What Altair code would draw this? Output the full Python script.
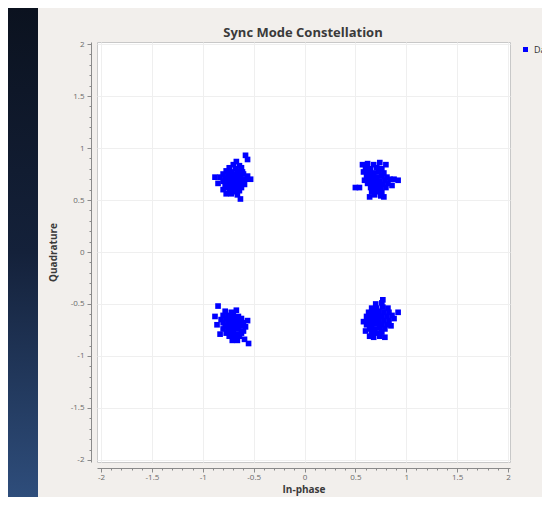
import altair as alt
import pandas as pd

# Constellation samples (I, Q) per cluster
UL = [(-0.70,0.84),(-0.64,0.83),
      (-0.74,0.81),(-0.68,0.80),(-0.62,0.81),
      (-0.77,0.78),(-0.72,0.77),(-0.66,0.78),(-0.61,0.77),
      (-0.80,0.75),(-0.75,0.74),(-0.70,0.75),(-0.65,0.74),(-0.60,0.75),(-0.56,0.73),
      (-0.83,0.72),(-0.78,0.71),(-0.73,0.72),(-0.68,0.71),(-0.63,0.72),(-0.58,0.70),
      (-0.80,0.68),(-0.75,0.68),(-0.70,0.69),(-0.65,0.68),(-0.60,0.67),
      (-0.78,0.65),(-0.73,0.65),(-0.68,0.66),(-0.63,0.64),(-0.59,0.65),
      (-0.76,0.62),(-0.71,0.62),(-0.66,0.61),(-0.62,0.62),
      (-0.74,0.59),(-0.69,0.58),(-0.64,0.59),
      (-0.72,0.56),(-0.66,0.55),
      (-0.58,0.93),(-0.56,0.89),(-0.88,0.72),(-0.63,0.51),(-0.80,0.60),
      (-0.53,0.70),(-0.67,0.87),(-0.85,0.66),(-0.77,0.56)]

UR = [(0.62,0.85),(0.68,0.84),(0.74,0.86),
      (0.60,0.81),(0.65,0.80),(0.71,0.81),(0.76,0.80),
      (0.58,0.77),(0.63,0.77),(0.68,0.76),(0.73,0.77),(0.78,0.76),
      (0.61,0.73),(0.66,0.73),(0.71,0.72),(0.76,0.73),(0.81,0.72),
      (0.59,0.69),(0.64,0.70),(0.69,0.69),(0.74,0.68),(0.79,0.69),(0.84,0.70),
      (0.62,0.66),(0.67,0.65),(0.72,0.66),(0.77,0.65),(0.82,0.66),
      (0.65,0.62),(0.70,0.62),(0.75,0.61),(0.80,0.62),
      (0.66,0.58),(0.71,0.58),(0.76,0.57),
      (0.69,0.55),(0.75,0.54),
      (0.50,0.62),(0.54,0.62),(0.92,0.69),(0.88,0.70),(0.64,0.53),
      (0.78,0.53),(0.57,0.84),(0.80,0.84),(0.86,0.64)]

LL = [(-0.78,-0.57),(-0.72,-0.58),
      (-0.80,-0.61),(-0.75,-0.61),(-0.70,-0.60),(-0.65,-0.62),
      (-0.82,-0.65),(-0.77,-0.64),(-0.72,-0.64),(-0.67,-0.65),(-0.62,-0.64),
      (-0.80,-0.68),(-0.75,-0.68),(-0.70,-0.67),(-0.65,-0.68),(-0.60,-0.68),
      (-0.78,-0.71),(-0.73,-0.71),(-0.68,-0.72),(-0.63,-0.71),(-0.58,-0.72),
      (-0.80,-0.74),(-0.75,-0.75),(-0.70,-0.75),(-0.65,-0.74),(-0.60,-0.76),
      (-0.77,-0.78),(-0.72,-0.78),(-0.67,-0.79),(-0.62,-0.78),
      (-0.74,-0.81),(-0.69,-0.82),(-0.64,-0.81),
      (-0.71,-0.85),(-0.66,-0.85),
      (-0.85,-0.52),(-0.86,-0.70),(-0.55,-0.88),(-0.59,-0.84),(-0.83,-0.79),
      (-0.56,-0.66),(-0.67,-0.56),(-0.88,-0.62)]

LR = [(0.70,-0.50),(0.76,-0.49),
      (0.66,-0.54),(0.71,-0.54),(0.77,-0.53),(0.82,-0.54),
      (0.63,-0.58),(0.68,-0.58),(0.73,-0.57),(0.78,-0.58),(0.83,-0.58),
      (0.61,-0.62),(0.66,-0.62),(0.71,-0.61),(0.76,-0.62),(0.81,-0.62),(0.86,-0.61),
      (0.63,-0.66),(0.68,-0.66),(0.73,-0.65),(0.78,-0.66),(0.83,-0.66),
      (0.61,-0.70),(0.66,-0.70),(0.71,-0.69),(0.76,-0.70),(0.81,-0.70),
      (0.64,-0.74),(0.69,-0.74),(0.74,-0.73),(0.79,-0.74),
      (0.66,-0.78),(0.71,-0.78),(0.76,-0.77),
      (0.68,-0.82),(0.74,-0.81),
      (0.77,-0.46),(0.92,-0.58),(0.88,-0.64),(0.58,-0.67),(0.60,-0.76),
      (0.79,-0.82),(0.64,-0.81),(0.85,-0.71)]

MAJOR_TICKS = [-2, -1.5, -1, -0.5, 0, 0.5, 1, 1.5, 2]
MINOR_TICKS = [-1.9,-1.8,-1.7,-1.6,-1.4,-1.3,-1.2,-1.1,-0.9,-0.8,-0.7,-0.6,
               -0.4,-0.3,-0.2,-0.1,0.1,0.2,0.3,0.4,0.6,0.7,0.8,0.9,
               1.1,1.2,1.3,1.4,1.6,1.7,1.8,1.9]
SERIES = "Data 0"
TITLE = "Sync Mode Constellation"

rows = [{"I": i, "Q": q, "series": SERIES} for cl in (UL, UR, LL, LR) for (i, q) in cl]
df = pd.DataFrame(rows)

FONT = "Open Sans"
xscale = alt.Scale(domain=[-2.04, 2.02], nice=False, zero=False)
yscale = alt.Scale(domain=[-2.02, 2.02], nice=False, zero=False)

axis_common = dict(
    values=MAJOR_TICKS, labelExpr="'' + datum.value", labelFont=FONT,
    labelFontSize=8, labelColor="#6a6a6a", tickColor="#8a8a8a", domainColor="#8a8a8a",
    tickSize=4, gridColor="#efefef", gridWidth=1, titleFont=FONT, titleFontSize=10,
    titleFontWeight="bold", titleColor="#3a3a3a",
)

points = alt.Chart(df).mark_square(size=32, opacity=1, filled=True).encode(
    x=alt.X("I:Q", scale=xscale,
            axis=alt.Axis(title="In-phase", orient="bottom", offset=6, labelPadding=1,
                          titlePadding=3, **axis_common)),
    y=alt.Y("Q:Q", scale=yscale,
            axis=alt.Axis(title="Quadrature", orient="left", offset=6, labelPadding=3,
                          titlePadding=12, **axis_common)),
    color=alt.Color("series:N", scale=alt.Scale(range=["#0000ff"]),
                    legend=alt.Legend(title=None, orient="none", legendX=424, legendY=3,
                                      symbolType="square", symbolSize=25,
                                      labelFont=FONT, labelFontSize=9, labelColor="#333333",
                                      labelOffset=4)),
)

minor = alt.Chart(df).mark_point(opacity=0).encode(
    x=alt.X("I:Q", scale=xscale,
            axis=alt.Axis(orient="bottom", offset=6, values=MINOR_TICKS, labels=False,
                          domain=False, grid=False, tickSize=2, tickColor="#8a8a8a",
                          title=None)),
    y=alt.Y("Q:Q", scale=yscale,
            axis=alt.Axis(orient="left", offset=6, values=MINOR_TICKS, labels=False,
                          domain=False, grid=False, tickSize=2, tickColor="#8a8a8a",
                          title=None)),
)

strip = alt.Chart(pd.DataFrame({"k": [0]})).mark_rect(
    color=alt.Gradient(gradient="linear",
                       stops=[alt.GradientStop(color="#0b121f", offset=0),
                              alt.GradientStop(color="#14213a", offset=0.5),
                              alt.GradientStop(color="#2e4d7b", offset=1)],
                       x1=0, x2=0, y1=0, y2=1)
).encode(x=alt.value(-89), x2=alt.value(-59), y=alt.value(-34), y2=alt.value(455))

title = alt.Chart(pd.DataFrame({"t": [TITLE]})).mark_text(
    font=FONT, fontSize=13, fontWeight="bold", color="#3a3a3a",
    align="center", baseline="middle"
).encode(text="t:N", x=alt.value(206), y=alt.value(-9))

chart = alt.layer(strip, title, points, minor).resolve_axis(
    x="independent", y="independent"
).properties(
    width=413, height=420,
    autosize=alt.AutoSizeParams(type="none"),
    padding={"left": 89, "top": 34, "right": 32, "bottom": 35},
).configure(background="#f2efec").configure_view(fill="white", stroke="#c8c8c8")

chart.save("out.html", embed_options={"renderer": "svg", "actions": False})
